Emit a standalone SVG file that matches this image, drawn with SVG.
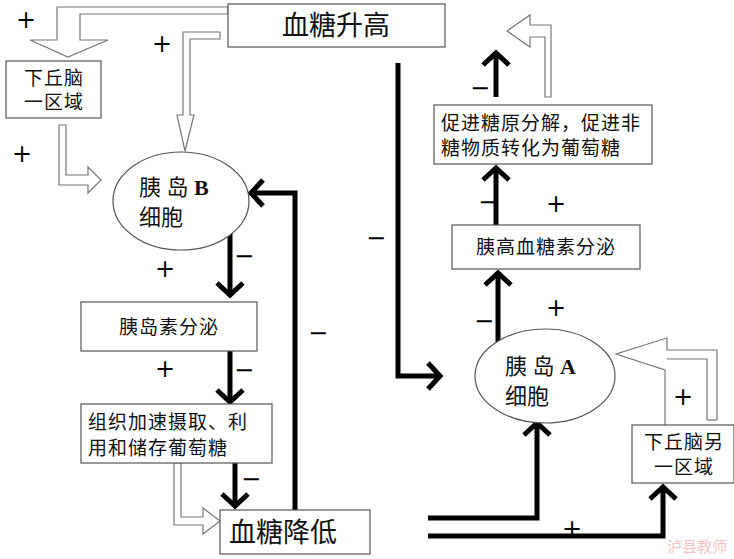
<svg xmlns="http://www.w3.org/2000/svg" width="734" height="559" viewBox="0 0 734 559">
<defs>
<marker id="ch" markerUnits="userSpaceOnUse" viewBox="-20 -20 30 40" markerWidth="30" markerHeight="40" refX="0" refY="0" orient="auto">
<path d="M-13,-13 L-1,0 L-13,13" fill="none" stroke="#000" stroke-width="5"/>
</marker>
</defs>
<style>
.box{fill:#fff;stroke:#555;stroke-width:1.2}
.t{font-family:"Liberation Serif","Noto Sans CJK SC",serif;fill:#111}
.s{font-size:19px;letter-spacing:1px}
.hol{fill:#fff;stroke:#777;stroke-width:1.2}
.holl{fill:none;stroke:#777;stroke-width:1.2}
.th{fill:none;stroke:#000;stroke-width:5;marker-end:url(#ch)}
.sg{font-family:"DejaVu Sans",sans-serif;font-size:24px;fill:#000;text-anchor:middle}
</style>
<g id="connectors">
<polygon class="hol" points="228,7 57,7 57,40 30,40 68,57 108,40 80,40 80,14 228,14"/>
<polygon class="hol" points="220,32 183,32 183,115 177,115 185,151 194,115 190,115 190,39 220,39"/>
<polygon class="hol" points="59,125 59,185 88,185 88,193 101,180 88,167 88,175 66,175 66,125"/>
<polygon class="hol" points="174,463 174,525 203,525 203,534 220,521 203,508 203,517 181,517 181,463"/>
<polygon class="hol" points="545,97 545,37 530,37 530,47 507,31 530,15 530,25 551,25 551,97"/>
<polyline class="hol" points="717,420 717,350 667,350 667,338 616,354 665,370 665,425"/>
<polyline class="holl" points="707,420 707,359 667,359"/>
<line class="holl" x1="707" y1="420" x2="717" y2="420"/>
<line class="th" x1="230" y1="232" x2="230" y2="296"/>
<line class="th" x1="230" y1="351" x2="230" y2="403"/>
<line class="th" x1="235" y1="463" x2="235" y2="507"/>
<polyline class="th" points="295,510 295,193 250,193"/>
<polyline class="th" points="398,63 398,376 441,376"/>
<line class="th" x1="498" y1="342" x2="498" y2="272"/>
<line class="th" x1="496" y1="225" x2="496" y2="167"/>
<line class="th" x1="496" y1="97" x2="496" y2="52"/>
<polyline class="th" points="428,518 537,518 537,422"/>
<polyline class="th" points="428,536 663,536 663,486"/>
</g>
<g id="labels">
<text class="sg" x="26" y="28">+</text>
<text class="sg" x="162" y="52">+</text>
<text class="sg" x="22" y="162">+</text>
<text class="sg" x="165" y="277">+</text>
<text class="sg" x="244" y="264">−</text>
<text class="sg" x="165" y="377">+</text>
<text class="sg" x="244" y="378">−</text>
<text class="sg" x="251" y="487">−</text>
<text class="sg" x="318" y="341">−</text>
<text class="sg" x="376" y="246">−</text>
<text class="sg" x="480" y="96">−</text>
<text class="sg" x="488" y="210">−</text>
<text class="sg" x="556" y="212">+</text>
<text class="sg" x="484" y="329">−</text>
<text class="sg" x="556" y="316">+</text>
<text class="sg" x="683" y="405">+</text>
<text class="sg" x="572" y="537">+</text>
</g>
<g id="n-high"><rect class="box" x="228" y="4" width="217" height="43"/><text class="t" x="336" y="35" font-size="27" text-anchor="middle">血糖升高</text></g>
<g id="n-hyp1"><rect class="box" x="6" y="61" width="95" height="57"/><text class="t s" x="54" y="85" text-anchor="middle">下丘脑</text><text class="t s" x="54" y="109" text-anchor="middle">一区域</text></g>
<g id="n-b"><ellipse class="box" cx="181" cy="201" rx="68" ry="49"/><text class="t" x="139" y="195" font-size="22">胰 岛 <tspan font-weight="bold">B</tspan></text><text class="t" x="139" y="225" font-size="22">细胞</text></g>
<g id="n-ins"><rect class="box" x="81" y="302" width="176" height="49"/><text class="t s" x="169" y="334" text-anchor="middle">胰岛素分泌</text></g>
<g id="n-tis"><rect class="box" x="81" y="404" width="191" height="59"/><text class="t s" x="88" y="429">组织加速摄取、利</text><text class="t s" x="88" y="455">用和储存葡萄糖</text></g>
<g id="n-low"><rect class="box" x="220" y="510" width="150" height="44"/><text class="t" x="229" y="542" font-size="27">血糖降低</text></g>
<g id="n-gly"><rect class="box" x="434" y="105" width="218" height="59"/><text class="t s" x="441" y="130">促进糖原分解，促进非</text><text class="t s" x="441" y="155">糖物质转化为葡萄糖</text></g>
<g id="n-glu"><rect class="box" x="452" y="225" width="188" height="44"/><text class="t s" x="546" y="254" text-anchor="middle">胰高血糖素分泌</text></g>
<g id="n-a"><ellipse class="box" cx="545" cy="376" rx="70" ry="47"/><text class="t" x="505" y="374" font-size="22">胰 岛 <tspan font-weight="bold">A</tspan></text><text class="t" x="505" y="404" font-size="22">细胞</text></g>
<g id="n-hyp2"><rect class="box" x="632" y="425" width="102" height="58"/><text class="t s" x="684" y="449" text-anchor="middle">下丘脑另</text><text class="t s" x="684" y="474" text-anchor="middle">一区域</text></g>
<text x="697" y="552" font-family="'Noto Sans CJK SC',sans-serif" font-size="15" fill="#f2c4c4" text-anchor="middle">泸县教师</text>
</svg>
